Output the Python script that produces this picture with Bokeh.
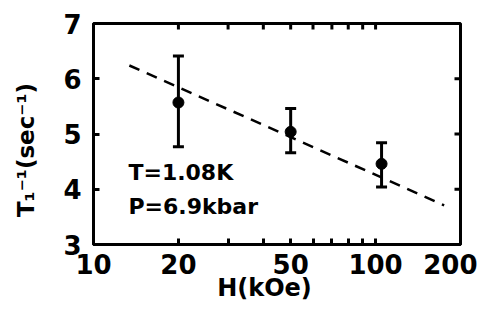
import math
from bokeh.plotting import figure
from bokeh.models import (FixedTicker, BasicTickFormatter, Whisker,
                          ColumnDataSource, TeeHead, Label, Range1d)
from bokeh.embed import file_html
from bokeh.resources import INLINE

# ---- data ----
field_kOe = [20, 50, 105]
rate = [5.57, 5.04, 4.46]
rate_upper = [6.41, 5.46, 4.84]
rate_lower = [4.77, 4.66, 4.04]
fit_field = [13.4, 175]
fit_rate = [6.24, 3.71]
x_major = [10, 20, 50, 100, 200]
x_minor = [30, 40, 60, 70, 80, 90]
y_major = [3, 4, 5, 6, 7]
note_lines = ["T=1.08K", "P=6.9kbar"]
note_x = 13.3
note_y = [4.30, 3.68]
x_title = "H(kOe)"
y_title = "T\u2081\u207b\u00b9(sec\u207b\u00b9)"

FONT = "DejaVu Sans"
NB = "\u00a0"

x_lo, x_hi = 10, 200
y_lo, y_hi = 3, 7

W, H = 477, 304
BL, BR, BT, BB = 93, 17, 23, 57
frame_w = W - BL - BR
frame_h = H - BT - BB
TICK = 6

p = figure(width=W, height=H, x_axis_type="log",
           x_range=Range1d(x_lo, x_hi), y_range=Range1d(y_lo, y_hi),
           output_backend="svg", toolbar_location=None,
           min_border_left=BL, min_border_right=BR,
           min_border_top=BT, min_border_bottom=BB)
p.xgrid.visible = False
p.ygrid.visible = False
p.outline_line_color = "black"
p.outline_line_width = 3
p.outline_line_alpha = 1.0
p.background_fill_color = "white"
p.border_fill_color = "white"


def style(ax):
    ax.axis_line_width = 3
    ax.axis_line_color = "black"
    ax.major_tick_in = TICK
    ax.major_tick_out = 0
    ax.minor_tick_in = TICK
    ax.minor_tick_out = 0
    ax.major_tick_line_width = 3
    ax.minor_tick_line_width = 3
    ax.major_tick_line_color = "black"
    ax.minor_tick_line_color = "black"
    ax.major_label_text_font = FONT
    ax.major_label_text_font_style = "bold"
    ax.major_label_text_color = "black"
    ax.major_label_text_font_size = "26px"
    ax.axis_label_text_font = FONT
    ax.axis_label_text_font_style = "bold"
    ax.axis_label_text_color = "black"


p.xaxis.ticker = FixedTicker(ticks=x_major, minor_ticks=x_minor)
p.xaxis.formatter = BasicTickFormatter()
style(p.xaxis[0])
p.xaxis.major_label_standoff = 9
p.xaxis.axis_label = x_title + NB * 3
p.xaxis.axis_label_text_font_size = "24px"
p.xaxis.axis_label_standoff = -3

p.yaxis.ticker = FixedTicker(ticks=y_major, minor_ticks=[])
style(p.yaxis[0])
p.yaxis.major_label_standoff = 12
p.yaxis.axis_label = y_title + NB * 4
p.yaxis.axis_label_text_font_size = "23px"
p.yaxis.axis_label_standoff = 21

# inward ticks on the top and right frame edges, derived from the tick lists
top_ticks = x_major[1:-1] + x_minor
dy = (y_hi - y_lo) * TICK / frame_h
p.segment(x0=top_ticks, x1=top_ticks, y0=[y_hi] * len(top_ticks),
          y1=[y_hi - dy] * len(top_ticks), line_width=3, line_color="black")
right_ticks = y_major[1:-1]
x_in = x_hi / (x_hi / x_lo) ** (TICK / frame_w)
p.segment(x0=[x_hi] * len(right_ticks), x1=[x_in] * len(right_ticks),
          y0=right_ticks, y1=right_ticks, line_width=3, line_color="black")

# dashed fit line
p.line(fit_field, fit_rate, line_dash="11 8", line_width=2.5, color="black")

src = ColumnDataSource(dict(H=field_kOe, r=rate, hi=rate_upper, lo=rate_lower))
w = Whisker(source=src, base="H", upper="hi", lower="lo", dimension="height",
            line_width=3, line_color="black",
            upper_head=TeeHead(size=11, line_width=3, line_color="black"),
            lower_head=TeeHead(size=11, line_width=3, line_color="black"))
p.add_layout(w)
p.scatter("H", "r", source=src, size=11, color="black")

for txt, yy in zip(note_lines, note_y):
    p.add_layout(Label(x=note_x, y=yy, text=txt, text_font=FONT,
                       text_font_style="bold", text_font_size="22px",
                       text_color="black", text_baseline="alphabetic"))

open("out.html", "w").write(file_html(p, INLINE))
